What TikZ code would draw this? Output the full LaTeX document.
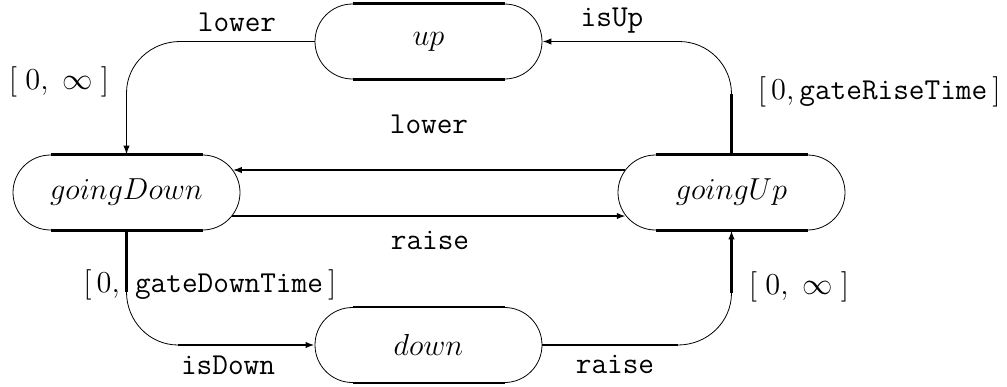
\documentclass[tikz,border=0pt]{standalone}
\usepackage{fix-cm}
\usetikzlibrary{shapes.misc,arrows.meta}
\begin{document}
\begin{tikzpicture}[x=0.5pt,y=-0.5pt,
  state/.style={rounded rectangle, draw, line width=0.4pt, minimum width=113.5pt,
    minimum height=37.5pt, inner sep=0pt, font=\fontsize{15.2}{18}\selectfont},
  lbl/.style={font=\fontsize{15.2}{18}\selectfont, inner sep=0pt},
  curve line/.style={line width=0.4pt},
  plain line/.style={line width=0.7pt},
  heavy line/.style={line width=1.1pt},
  tip/.style={-{Latex[length=4.5pt,width=3.2pt]}},
  border/.style={line width=1.3pt}]
\useasboundingbox (0,0) rectangle (1007,386);

% locations
\node[state] (up)        at (428.5,41.5) {$up$};
\node[state] (goingDown) at (126.5,192.5) {$goingDown$};
\node[state] (goingUp)   at (731.5,192.5) {$goingUp$};
\node[state] (down)      at (428.5,345)  {$down$};

% heavy straight sides of every location
\foreach \s in {up,goingDown,goingUp,down}
  \draw[border] ([xshift=-38pt]\s.north) -- ([xshift=38pt]\s.north)
                ([xshift=-38pt]\s.south) -- ([xshift=38pt]\s.south);

% up -> goingDown : lower
\coordinate (a1) at (180,41.5);
\coordinate (a2) at (126.5,93);
\draw[plain line] (up.west) -- (a1);
\draw[curve line] (a1) to[out=180,in=90] (a2);
\draw[plain line,tip] (a2) -- (goingDown.north);

% goingUp -> up : isUp
\coordinate (b1) at (731.5,94);
\coordinate (b2) at (679,41.5);
\draw[heavy line] (goingUp.north) -- (b1);
\draw[curve line] (b1) to[out=90,in=0] (b2);
\draw[plain line,tip] (b2) -- (up.east);

% goingUp -> goingDown : lower
\draw[plain line,tip] ([shift={(3.75pt,11.25pt)}]goingUp.west)
  -- ([shift={(-3.75pt,11.25pt)}]goingDown.east);

% goingDown -> goingUp : raise
\draw[heavy line,tip] ([shift={(-4.1pt,-11.75pt)}]goingDown.east)
  -- ([shift={(4.1pt,-11.75pt)}]goingUp.west);

% goingDown -> down : isDown
\coordinate (e1) at (126.5,292);
\coordinate (e2) at (178,345);
\draw[heavy line] (goingDown.south) -- (e1);
\draw[curve line] (e1) to[out=-90,in=180] (e2);
\draw[heavy line,tip] (e2) -- (down.west);

% down -> goingUp : raise
\coordinate (f1) at (678,345);
\coordinate (f2) at (731.5,293);
\draw[heavy line] (down.east) -- (f1);
\draw[curve line] (f1) to[out=0,in=-90] (f2);
\draw[heavy line,tip] (f2) -- (goingUp.south);

% action labels
\node[lbl] (lA) at (237,22)  {\texttt{lower}};
\node[lbl] (lB) at (612,21)  {\texttt{isUp}};
\node[lbl] (lC) at (429,124) {\texttt{lower}};
\node[lbl] (lD) at (430,240) {\texttt{raise}};
\node[lbl] (lE) at (228,365) {\texttt{isDown}};
\node[lbl] (lF) at (615,364) {\texttt{raise}};

% time bounds
\node[lbl] (tA) at (59,82)   {$[\;0,\;\infty\;]$};
\node[lbl,anchor=east] (tB) at (1001,92)
  {$[\,0,\,$\texttt{gateRiseTime}$\,]$};
\node[lbl,anchor=west] (tE) at (83,285)
  {$[\,0,$\enspace\texttt{gateDownTime}$\,]$};
\node[lbl] (tF) at (799,287) {$[\;0,\;\infty\;]$};
\end{tikzpicture}
\end{document}
